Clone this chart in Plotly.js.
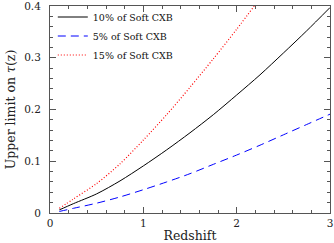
<!DOCTYPE html>
<html>
<head>
<meta charset="utf-8">
<script src="https://cdn.plot.ly/plotly-3.0.1.min.js"></script>
<style>html,body{margin:0;padding:0;background:#fff;}#chart{width:334px;height:243px;}</style>
</head>
<body>
<div id="chart"></div>
<script>
var redshift = [0.1, 0.25, 0.5, 0.75, 1.0, 1.25, 1.5, 1.75, 2.0, 2.25, 2.5, 2.75, 3.0];
var tau10 = [0.006, 0.018, 0.037, 0.062, 0.091, 0.122, 0.155, 0.190, 0.228, 0.267, 0.309, 0.352, 0.397];
var tau5  = [0.003, 0.009, 0.019, 0.031, 0.045, 0.060, 0.076, 0.094, 0.112, 0.131, 0.151, 0.171, 0.191];
var redshift15 = [0.1, 0.25, 0.5, 0.75, 1.0, 1.25, 1.5, 1.75, 2.0, 2.25];
var tau15 = [0.009, 0.027, 0.057, 0.095, 0.141, 0.190, 0.243, 0.298, 0.355, 0.415];
var names = ["10% of Soft CXB", "5% of Soft CXB", "15% of Soft CXB"];
var xTicks = [0, 1, 2, 3];
var yTicks = [0, 0.1, 0.2, 0.3, 0.4];
var yTickText = ["0", "0.1", "0.2", "0.3", "0.4"];

var font = "DejaVu Serif";
var traces = [
  {x: redshift, y: tau10, mode: "lines", name: names[0], line: {color: "#000000", width: 1, shape: "spline", smoothing: 0.8}},
  {x: redshift, y: tau5, mode: "lines", name: names[1], line: {color: "#0000ff", width: 1, dash: "8px,5px", shape: "spline", smoothing: 0.8}},
  {x: redshift15, y: tau15, mode: "lines", name: names[2], line: {color: "#ff0000", width: 1.2, dash: "1px,2px", shape: "spline", smoothing: 0.8}}
];
var axisCommon = {
  showgrid: false, zeroline: false, showline: true, linecolor: "#555", linewidth: 1,
  mirror: "allticks", ticks: "inside", ticklen: 6, tickcolor: "#555", tickwidth: 1,
  ticklabeloverflow: "allow",
  tickfont: {family: font, size: 10.5, color: "#222"}
};
var layout = {
  width: 334, height: 243,
  margin: {l: 50, r: 4, t: 5, b: 30},
  paper_bgcolor: "#fff", plot_bgcolor: "#fff",
  showlegend: true,
  legend: {x: 0.01, y: 1.012, xanchor: "left", yanchor: "top", bgcolor: "rgba(0,0,0,0)",
           font: {family: font, size: 9.5, color: "#111"}},
  xaxis: Object.assign({}, axisCommon, {
    range: [0, 3], tickvals: xTicks, ticktext: xTicks.map(String),
    minor: {dtick: 0.2, ticks: "inside", ticklen: 3, tickcolor: "#555"},
    title: {text: "Redshift", font: {family: font, size: 12.5, color: "#222"}, standoff: 3}
  }),
  yaxis: Object.assign({}, axisCommon, {
    range: [0, 0.4], tickvals: yTicks, ticktext: yTickText,
    minor: {dtick: 0.02, ticks: "inside", ticklen: 3, tickcolor: "#555"},
    ticklabelstandoff: 6,
    title: {text: "Upper limit on <i>τ</i>(z)", font: {family: font, size: 12.5, color: "#222"}, standoff: 5}
  })
};
Plotly.newPlot("chart", traces, layout, {staticPlot: true});
</script>
</body>
</html>
